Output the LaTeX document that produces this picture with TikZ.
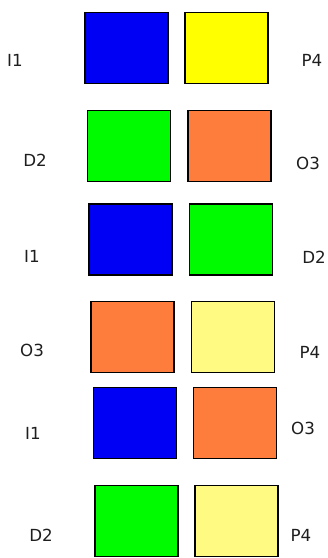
\documentclass[tikz,border=0pt]{standalone}
\usepackage{fontspec}
\setmainfont{DejaVu Sans}
\usepackage{tikz}
\usetikzlibrary{positioning}
\definecolor{tileblue}{RGB}{0,0,245}
\definecolor{tileyellow}{RGB}{255,255,0}
\definecolor{tilegreen}{RGB}{0,250,0}
\definecolor{tileorange}{RGB}{255,125,60}
\definecolor{tilepale}{RGB}{255,250,130}
\definecolor{tiletext}{RGB}{30,30,30}

\begin{document}
\begin{tikzpicture}[
    x=0.75pt, y=-0.75pt,
    tile/.style={draw=black, line width=1.1pt, minimum width=62pt,
                 minimum height=53.5pt, inner sep=0pt},
    lab/.style={font=\fontsize{12.5}{14}\selectfont, text=tiletext, inner sep=0pt}
]
\useasboundingbox (0,0) rectangle (328,558);

% row 1
\node[tile, fill=tileblue]   (b1) at (126.5, 48) {};
\node[tile, fill=tileyellow] (y1) at (226.5, 48) {};
\node[lab] (i1) at (15, 60) {I1};
\node[lab] (p1) at (312, 60) {P4};

% row 2
\node[tile, fill=tilegreen]  (g2) at (129, 146) {};
\node[tile, fill=tileorange] (o2) at (229.5, 146) {};
\node[lab] (d2) at (35, 160) {D2};
\node[lab] (q2) at (308, 163) {O3};

% row 3
\node[tile, fill=tileblue]  (b3) at (130.5, 239.5) {};
\node[tile, fill=tilegreen] (g3) at (231, 239.5) {};
\node[lab] (i3) at (32, 256) {I1};
\node[lab] (d3) at (314, 257) {D2};

% row 4
\node[tile, fill=tileorange] (o4) at (132.5, 337) {};
\node[tile, fill=tilepale]   (y4) at (233, 337) {};
\node[lab] (q4) at (32, 350) {O3};
\node[lab] (p4) at (310, 352) {P4};

% row 5
\node[tile, fill=tileblue]   (b5) at (135, 423) {};
\node[tile, fill=tileorange] (o5) at (235, 423) {};
\node[lab] (i5) at (33, 433) {I1};
\node[lab] (q5) at (303, 428) {O3};

% row 6
\node[tile, fill=tilegreen] (g6) at (136.5, 521) {};
\node[tile, fill=tilepale]  (y6) at (236.5, 521) {};
\node[lab] (d6) at (41, 535) {D2};
\node[lab] (p6) at (301, 535) {P4};
\end{tikzpicture}
\end{document}
